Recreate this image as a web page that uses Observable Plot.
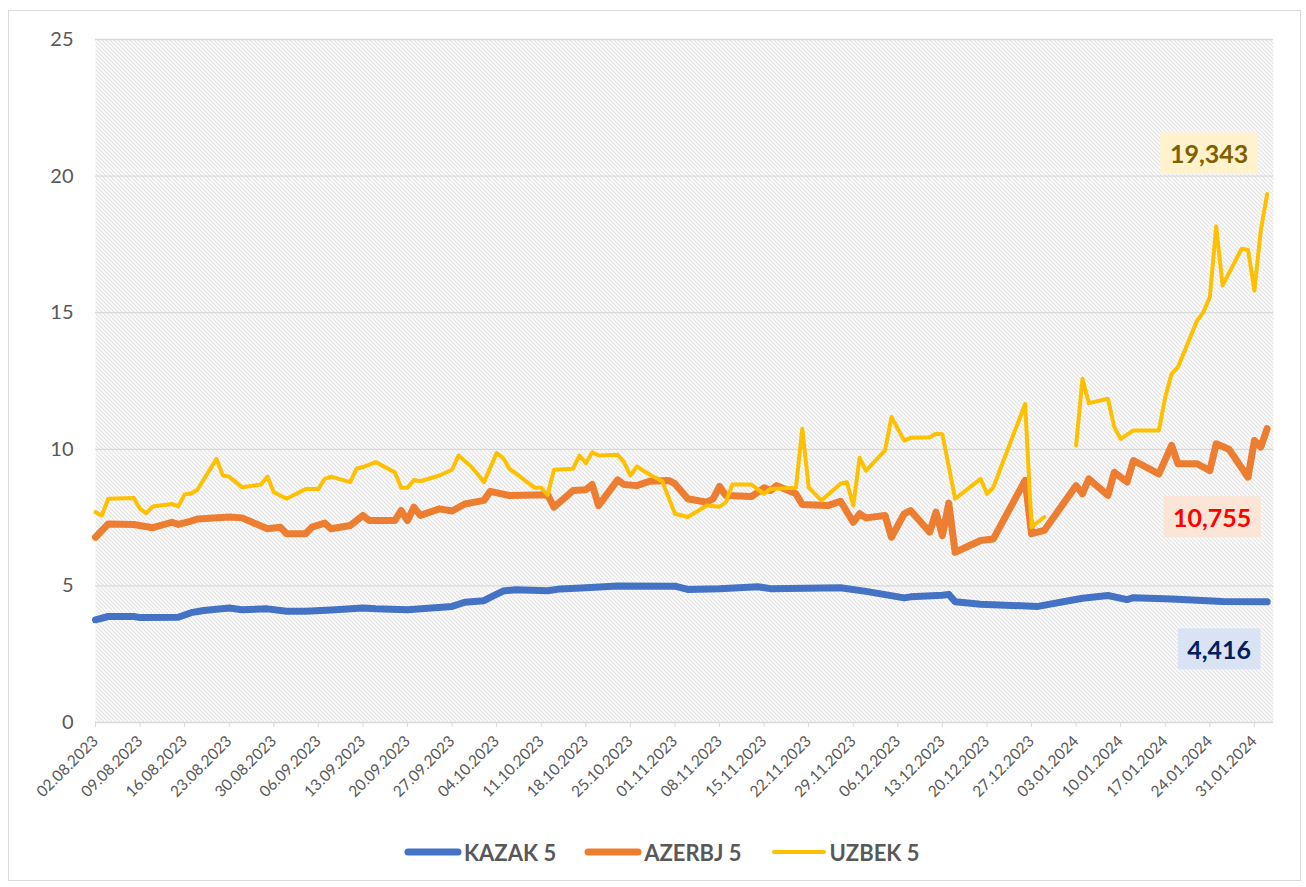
<!DOCTYPE html>
<html>
<head>
<meta charset="utf-8">
<script src="https://cdn.jsdelivr.net/npm/d3@7"></script>
<script src="https://cdn.jsdelivr.net/npm/@observablehq/plot@0.6"></script>
<style>
  html, body { margin: 0; padding: 0; background: #ffffff; }
  #wrap { position: absolute; left: 8px; top: 10px; width: 1291px; height: 869px; border: 1px solid #d9d9d9; background: #fff; }
  #chart svg { display: block; }
  #legend { display: flex; align-items: center; padding-left: 395px; padding-top: 28px; height: 26px; font-family: Lato, sans-serif; font-weight: bold; font-size: 22px; color: #595959; }
  .item { display: flex; align-items: center; margin-right: 28px; }
  .item svg { display: block; margin-right: 2px; }
</style>
</head>
<body>
<div id="wrap"><div id="chart"></div><div id="legend"></div></div>
<script>
// ---------------- data ----------------
const seriesNames = ["KAZAK 5", "AZERBJ 5", "UZBEK 5"];
const seriesColors = ["#4472C4", "#ED7D31", "#FFC000"];

const kazakDates = ["2023-08-02","2023-08-04","2023-08-08","2023-08-09","2023-08-15","2023-08-17","2023-08-19","2023-08-23","2023-08-25","2023-08-29",
  "2023-09-01","2023-09-04","2023-09-08","2023-09-13","2023-09-15","2023-09-20","2023-09-27","2023-09-29","2023-10-02","2023-10-03",
  "2023-10-05","2023-10-07","2023-10-12","2023-10-14","2023-10-18","2023-10-23","2023-11-01","2023-11-03","2023-11-08","2023-11-14",
  "2023-11-16","2023-11-27","2023-12-01","2023-12-07","2023-12-08","2023-12-13","2023-12-14","2023-12-15","2023-12-19","2023-12-28",
  "2024-01-04","2024-01-08","2024-01-11","2024-01-12","2024-01-18","2024-01-26","2024-02-02"];
const kazakValues = [3.76,3.88,3.88,3.84,3.85,4.02,4.10,4.19,4.13,4.16,
  4.07,4.07,4.12,4.19,4.16,4.13,4.25,4.40,4.46,4.58,
  4.81,4.86,4.82,4.89,4.93,5.00,4.99,4.87,4.90,4.97,
  4.90,4.93,4.80,4.56,4.60,4.66,4.69,4.42,4.33,4.25,
  4.55,4.65,4.50,4.57,4.52,4.43,4.416];

const azerbjDates = ["2023-08-02","2023-08-04","2023-08-08","2023-08-11","2023-08-14","2023-08-15","2023-08-17","2023-08-18","2023-08-23","2023-08-25",
  "2023-08-29","2023-08-31","2023-09-01","2023-09-04","2023-09-05","2023-09-07","2023-09-08","2023-09-11","2023-09-13","2023-09-14",
  "2023-09-18","2023-09-19","2023-09-20","2023-09-21","2023-09-22","2023-09-25","2023-09-27","2023-09-29","2023-10-02","2023-10-03",
  "2023-10-06","2023-10-12","2023-10-13","2023-10-16","2023-10-18","2023-10-19","2023-10-20","2023-10-23","2023-10-24","2023-10-26",
  "2023-10-28","2023-10-31","2023-11-01","2023-11-03","2023-11-06","2023-11-07","2023-11-08","2023-11-09","2023-11-13","2023-11-15",
  "2023-11-16","2023-11-17","2023-11-20","2023-11-21","2023-11-25","2023-11-27","2023-11-29","2023-11-30","2023-12-01","2023-12-04",
  "2023-12-05","2023-12-07","2023-12-08","2023-12-11","2023-12-12","2023-12-13","2023-12-14","2023-12-15","2023-12-19","2023-12-21",
  "2023-12-26","2023-12-27","2023-12-29","2024-01-03","2024-01-04","2024-01-05","2024-01-08","2024-01-09","2024-01-11","2024-01-12",
  "2024-01-16","2024-01-18","2024-01-19","2024-01-22","2024-01-24","2024-01-25","2024-01-27","2024-01-30","2024-01-31","2024-02-01",
  "2024-02-02"];
const azerbjValues = [6.78,7.27,7.25,7.13,7.33,7.25,7.37,7.45,7.52,7.49,
  7.09,7.15,6.91,6.91,7.15,7.30,7.09,7.21,7.58,7.39,
  7.39,7.76,7.39,7.88,7.58,7.82,7.74,8.00,8.13,8.46,
  8.31,8.34,7.88,8.49,8.52,8.71,7.94,8.88,8.71,8.67,
  8.83,8.86,8.74,8.19,8.06,8.19,8.64,8.31,8.27,8.59,
  8.49,8.67,8.37,7.98,7.94,8.10,7.33,7.64,7.49,7.58,
  6.78,7.64,7.76,6.97,7.70,6.84,8.03,6.23,6.66,6.72,
  8.86,6.91,7.03,8.67,8.37,8.92,8.31,9.16,8.80,9.59,
  9.10,10.14,9.47,9.47,9.22,10.20,10.00,8.98,10.32,10.08,
  10.755];

const uzbekDates = ["2023-08-02","2023-08-03","2023-08-04","2023-08-08","2023-08-09","2023-08-10","2023-08-11","2023-08-14","2023-08-15","2023-08-16",
  "2023-08-17","2023-08-18","2023-08-21","2023-08-22","2023-08-23","2023-08-25","2023-08-28","2023-08-29","2023-08-30","2023-09-01",
  "2023-09-04","2023-09-06","2023-09-07","2023-09-08","2023-09-11","2023-09-12","2023-09-13","2023-09-15","2023-09-18","2023-09-19",
  "2023-09-20","2023-09-21","2023-09-22","2023-09-25","2023-09-27","2023-09-28","2023-09-30","2023-10-02","2023-10-04","2023-10-05",
  "2023-10-06","2023-10-10","2023-10-11","2023-10-12","2023-10-13","2023-10-16","2023-10-17","2023-10-18","2023-10-19","2023-10-20",
  "2023-10-23","2023-10-24","2023-10-25","2023-10-26","2023-10-28","2023-10-30","2023-11-01","2023-11-03","2023-11-06","2023-11-08",
  "2023-11-09","2023-11-10","2023-11-13","2023-11-15","2023-11-16","2023-11-20","2023-11-21","2023-11-22","2023-11-24","2023-11-27",
  "2023-11-28","2023-11-29","2023-11-30","2023-12-01","2023-12-04","2023-12-05","2023-12-07","2023-12-08","2023-12-11","2023-12-12",
  "2023-12-13","2023-12-15","2023-12-19","2023-12-20","2023-12-21","2023-12-26","2023-12-27","2023-12-29","2024-01-01","2024-01-03",
  "2024-01-04","2024-01-05","2024-01-08","2024-01-09","2024-01-10","2024-01-12","2024-01-16","2024-01-17","2024-01-18","2024-01-19",
  "2024-01-22","2024-01-23","2024-01-24","2024-01-25","2024-01-26","2024-01-29","2024-01-30","2024-01-31","2024-02-01","2024-02-02"];
const uzbekValues = [7.70,7.58,8.19,8.22,7.82,7.66,7.91,8.00,7.91,8.35,
  8.38,8.52,9.65,9.04,9.00,8.61,8.71,9.00,8.43,8.19,
  8.55,8.55,8.92,9.00,8.80,9.29,9.35,9.53,9.16,8.59,
  8.59,8.88,8.83,9.04,9.25,9.77,9.37,8.80,9.86,9.69,
  9.29,8.59,8.59,8.33,9.25,9.29,9.77,9.49,9.89,9.77,
  9.80,9.53,9.04,9.37,9.08,8.83,7.64,7.52,7.94,7.90,
  8.06,8.71,8.71,8.37,8.55,8.59,10.75,8.61,8.13,8.74,
  8.80,7.94,9.69,9.22,9.96,11.18,10.32,10.42,10.44,10.57,
  10.55,8.19,8.92,8.37,8.61,11.66,7.15,7.52,null,10.14,
  12.58,11.69,11.85,10.81,10.38,10.69,10.69,11.91,12.76,13.01,
  14.71,15.02,15.57,18.16,16.00,17.34,17.30,15.81,18.01,19.343];

const xTickDates = ["2023-08-02","2023-08-09","2023-08-16","2023-08-23","2023-08-30","2023-09-06","2023-09-13","2023-09-20","2023-09-27",
  "2023-10-04","2023-10-11","2023-10-18","2023-10-25","2023-11-01","2023-11-08","2023-11-15","2023-11-22","2023-11-29","2023-12-06",
  "2023-12-13","2023-12-20","2023-12-27","2024-01-03","2024-01-10","2024-01-17","2024-01-24","2024-01-31"];
const yTicks = [0, 5, 10, 15, 20, 25];
const xDomain = ["2023-08-02", "2024-02-03"];

const labelText = ["#002060", "#FF0000", "#7F6000"];
const labelBox = ["#DAE3F3", "#FBE5D6", "#FFF2CC"];

// ---------------- build ----------------
const toRows = (dates, values) => dates.map((d, i) => ({date: new Date(d), value: values[i]}));
const series = [toRows(kazakDates, kazakValues), toRows(azerbjDates, azerbjValues), toRows(uzbekDates, uzbekValues)];
const widths = [7, 7, 4];
const labelOffsets = [[-48, 49], [-55, 90], [-58, -39]];
const fmtVal = v => v.toFixed(3).replace(".", ",");
const fmtDate = d3.utcFormat("%d.%m.%Y");

const marks = [
  Plot.frame({fill: "url(#hatch)", stroke: "none"}),
  Plot.gridY({ticks: yTicks.filter(t => t > 0), stroke: "#d9d9d9", strokeOpacity: 1, strokeWidth: 1.3}),
  Plot.ruleY([0], {stroke: "#d9d9d9", strokeWidth: 1.5}),
  Plot.axisY({ticks: yTicks, tickSize: 0, tickPadding: 22, fontSize: 20, label: null}),
  Plot.axisX({ticks: xTickDates.map(d => new Date(d)), tickFormat: fmtDate, tickRotate: -45, tickSize: 5, tickPadding: 11, fontSize: 15.5, label: null, stroke: "#d9d9d9"})
];
series.forEach((rows, i) => {
  marks.push(Plot.line(rows, {x: "date", y: "value", stroke: seriesColors[i], strokeWidth: widths[i], strokeLinejoin: "round", strokeLinecap: "round"}));
});
series.forEach((rows, i) => {
  const last = rows[rows.length - 1];
  marks.push(Plot.text([last], {x: "date", y: "value", text: d => fmtVal(d.value), dx: labelOffsets[i][0], dy: labelOffsets[i][1],
    fill: labelText[i], fontWeight: "bold", fontSize: 25}));
});

const svg = Plot.plot({
  width: 1291, height: 800,
  marginLeft: 86, marginRight: 27, marginTop: 28, marginBottom: 89,
  style: {fontFamily: "Lato, sans-serif", color: "#595959", background: "#ffffff"},
  x: {type: "utc", domain: xDomain.map(d => new Date(d))},
  y: {domain: [0, 25]},
  marks
});
document.getElementById("chart").appendChild(svg);

// hatch pattern
const defs = d3.select(svg).insert("defs", ":first-child");
const pat = defs.append("pattern").attr("id", "hatch").attr("patternUnits", "userSpaceOnUse").attr("width", 4).attr("height", 4);
pat.append("rect").attr("width", 4).attr("height", 4).attr("fill", "#ffffff");
pat.append("path").attr("d", "M-1,-1L5,5M-1,3L1,5M3,-1L5,1").attr("stroke", "#cccccc").attr("stroke-width", 1);

// label boxes
series.forEach((rows, i) => {
  const txt = fmtVal(rows[rows.length - 1].value);
  svg.querySelectorAll("text").forEach(t => {
    if (t.textContent === txt) {
      const b = t.getBBox();
      const w = b.width + 19, h = 41;
      const r = document.createElementNS("http://www.w3.org/2000/svg", "rect");
      r.setAttribute("x", b.x + b.width / 2 - w / 2);
      r.setAttribute("y", b.y + b.height / 2 - h / 2);
      r.setAttribute("width", w);
      r.setAttribute("height", h);
      r.setAttribute("fill", labelBox[i]);
      if (t.getAttribute("transform")) r.setAttribute("transform", t.getAttribute("transform"));
      t.parentNode.insertBefore(r, t);
    }
  });
});

// legend
const legend = d3.select("#legend");
seriesNames.forEach((name, i) => {
  const item = legend.append("div").attr("class", "item");
  const s = item.append("svg").attr("width", 58).attr("height", 12);
  s.append("line").attr("x1", 4).attr("x2", 54).attr("y1", 6).attr("y2", 6)
    .attr("stroke", seriesColors[i]).attr("stroke-width", widths[i]).attr("stroke-linecap", "round");
  item.append("span").text(name);
});
</script>
</body>
</html>
